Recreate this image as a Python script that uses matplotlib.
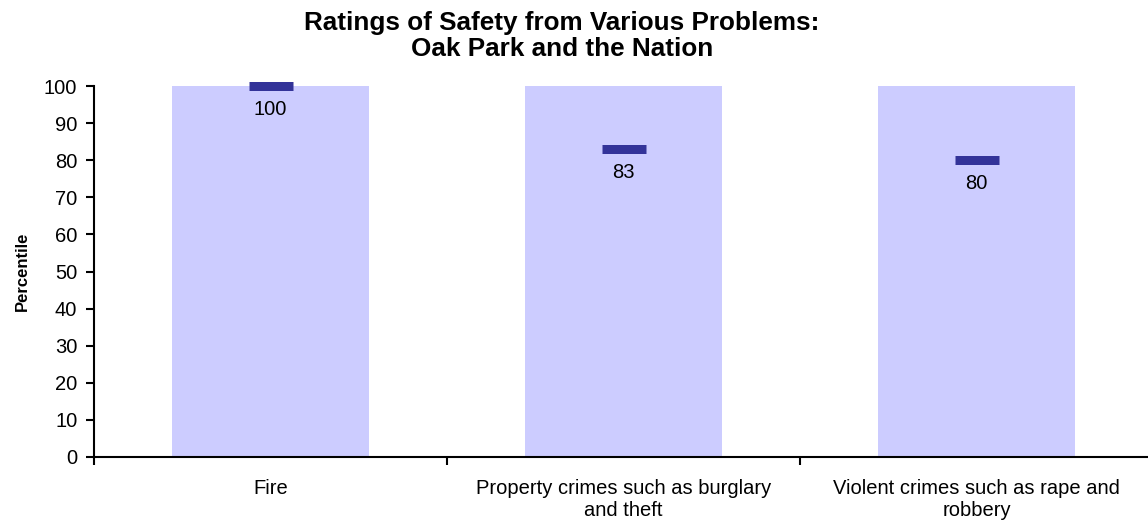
import matplotlib
matplotlib.use("Agg")
import matplotlib.pyplot as plt
from matplotlib.ticker import FixedLocator

categories = ["Fire", "Property crimes such as burglary\nand theft", "Violent crimes such as rape and\nrobbery"]
percentiles = [100, 83, 80]
bar_tops = [100, 100, 100]
value_labels = ["100", "83", "80"]
yticks = list(range(0, 101, 10))

plt.rcParams['font.family'] = ['Liberation Sans', 'DejaVu Sans']

W, H = 1148, 529
fig = plt.figure(figsize=(W / 100, H / 100), dpi=100)
ax = fig.add_axes([94 / W, (H - 457) / H, (1153 - 94) / W, (457 - 86) / H])

x = list(range(len(categories)))
ax.bar(x, bar_tops, width=0.558, color="#CCCCFF", zorder=1)
ax.plot(x, percentiles, linestyle="none", marker="_", markersize=44 * 0.72,
        markeredgewidth=9 * 0.72, color="#333399", zorder=3, clip_on=False)
for xi, v, lab in zip(x, percentiles, value_labels):
    ax.annotate(lab, (xi, v), xytext=(0, -10), textcoords="offset points",
                ha="center", va="top", fontsize=14.5, color="black")

ax.set_xlim(-0.5, 2.5)
ax.set_ylim(0, 100)
ax.set_yticks(yticks)
ax.set_xticks(x)
ax.set_xticklabels(categories, fontsize=14.5, linespacing=1.2)
ax.xaxis.set_minor_locator(FixedLocator([-0.5, 0.5, 1.5, 2.5]))
ax.tick_params(axis="x", which="major", length=0, pad=16)
ax.tick_params(axis="x", which="minor", length=6, width=1.5, direction="out")
ax.tick_params(axis="y", length=5.5, width=1.5, direction="out", labelsize=14.5, pad=6.5)
for s in ["top", "right"]:
    ax.spines[s].set_visible(False)
for s in ["left", "bottom"]:
    ax.spines[s].set_linewidth(1.5)
ax.set_ylabel("Percentile", fontsize=12, fontweight="bold", labelpad=10)

fig.text(562 / W, 1 - 36 / H, "Ratings of Safety from Various Problems:\nOak Park and the Nation",
         ha="center", va="center", fontsize=18.8, fontweight="bold", linespacing=1.15)

fig.savefig("out.png", dpi=100)
